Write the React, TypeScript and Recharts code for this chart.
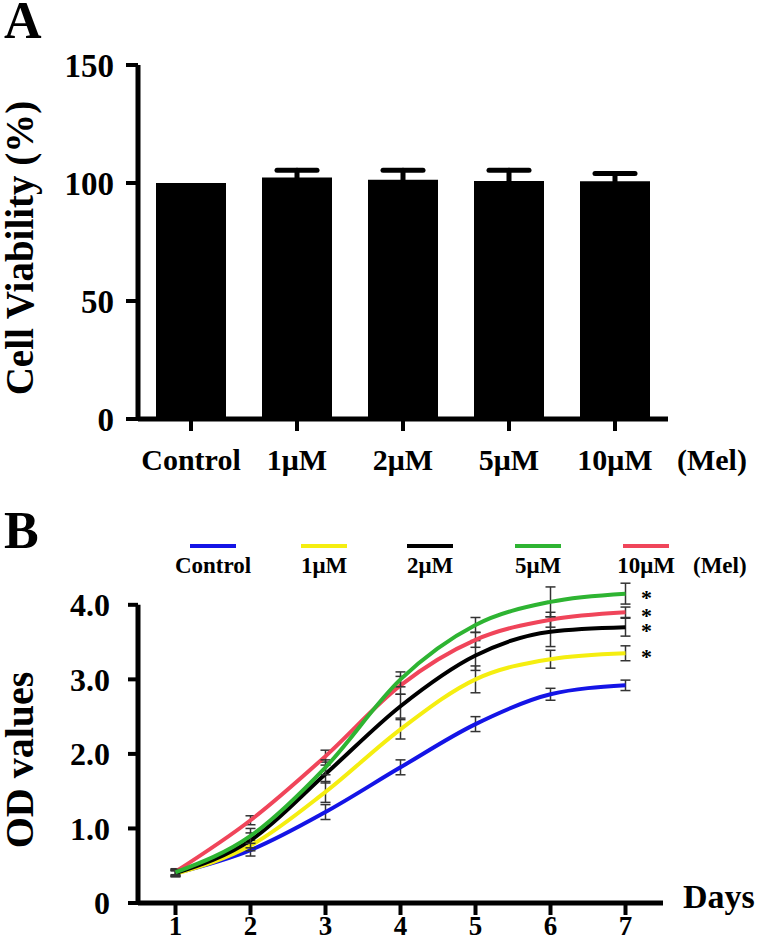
import React from 'react'
import {
  BarChart,
  Bar,
  LineChart,
  Line,
  XAxis,
  YAxis,
  ErrorBar,
  ReferenceLine,
  LabelList,
} from 'recharts'

// panel A: viability after 24h
const groups = ['Control', '1μM', '2μM', '5μM', '10μM']
const viability = [100, 102.3, 101.4, 100.8, 100.7]
const viabilitySem = [null, 3.1, 4.0, 4.6, 3.3]
const viabilityTicks = [0, 50, 100, 150]

// panel B: growth curve
const days = [1, 2, 3, 4, 5, 6, 7]
const odTicks = [0, 1, 2, 3, 4]
const seriesNames = ['Control', '1μM', '2μM', '5μM', '10μM']
const seriesColors = ['#1414e6', '#f5ee10', '#000000', '#2eb432', '#f0455a']
const odControl = [0.4, 0.71, 1.22, 1.82, 2.4, 2.8, 2.92]
const odMel1 = [0.39, 0.77, 1.49, 2.33, 3.0, 3.27, 3.35]
const odMel2 = [0.4, 0.84, 1.73, 2.64, 3.32, 3.64, 3.7]
const odMel5 = [0.41, 0.9, 1.82, 3.0, 3.73, 4.04, 4.15]
const odMel10 = [0.42, 1.11, 1.97, 2.92, 3.53, 3.8, 3.9]
const errControl = [0.04, 0.08, 0.1, 0.1, 0.1, 0.08, 0.07]
const errMel1 = [0.04, 0.07, 0.14, 0.13, 0.18, 0.12, 0.1]
const errMel2 = [0.04, 0.1, 0.12, 0.16, 0.2, 0.2, 0.12]
const errMel5 = [0.04, 0.1, 0.1, 0.1, 0.1, 0.2, 0.14]
const errMel10 = [0.04, 0.06, 0.08, 0.12, 0.1, 0.1, 0.07]
const significant = [false, true, true, true, true]

const serif = '"Liberation Serif", "Times New Roman", serif'
const W = 767
const H = 939

// symmetric sem; the lower half sits hidden inside the black bar
const barData = groups.map((g, i) => ({
  group: g,
  value: viability[i],
  sem: viabilitySem[i],
}))

const odValues = [odControl, odMel1, odMel2, odMel5, odMel10]
const odErrors = [errControl, errMel1, errMel2, errMel5, errMel10]

const lineData = days.map((d, i) => {
  const row: Record<string, number> = { day: d }
  odValues.forEach((vals, s) => {
    row[`s${s}`] = vals[i]
    row[`e${s}`] = odErrors[s][i]
  })
  return row
})

// draw order: blue, yellow, black, red, green on top
const drawOrder = [0, 1, 2, 4, 3]
const legendX = [213, 324, 430, 538, 646]

const tickFont = (size: number) => ({
  fontFamily: serif,
  fontWeight: 700,
  fontSize: size,
  fill: '#000',
})

function starLabel(props: any, show: boolean) {
  const { x, y, index } = props
  if (!show || index !== days.length - 1) return null
  return (
    <text
      x={x + 21}
      y={y + 11}
      textAnchor="middle"
      fontFamily={serif}
      fontWeight={700}
      fontSize={22}
      fill="#000"
    >
      *
    </text>
  )
}

export default function App() {
  return (
    <div
      style={{
        position: 'absolute',
        left: 0,
        top: 0,
        width: W,
        height: H,
        background: '#fff',
        overflow: 'hidden',
      }}
    >
      <div style={{ position: 'absolute', left: 0, top: 0 }}>
        <BarChart
          width={W}
          height={480}
          data={barData}
          margin={{ top: 65, right: 99, bottom: 0, left: 0 }}
        >
          <XAxis
            dataKey="group"
            height={61}
            interval={0}
            tickSize={12}
            tickMargin={18}
            axisLine={{ stroke: '#000', strokeWidth: 5 }}
            tickLine={{ stroke: '#000', strokeWidth: 4 }}
            tick={tickFont(30)}
          />
          <YAxis
            domain={[0, 150]}
            ticks={viabilityTicks}
            width={138}
            tickSize={12}
            tickMargin={12}
            axisLine={{ stroke: '#000', strokeWidth: 5 }}
            tickLine={{ stroke: '#000', strokeWidth: 4 }}
            tick={tickFont(33)}
          />
          <Bar dataKey="value" fill="#000" barSize={70} isAnimationActive={false}>
            <ErrorBar
              dataKey="sem"
              direction="y"
              width={20}
              stroke="#000"
              strokeWidth={5}
              strokeLinecap="round"
            />
          </Bar>
        </BarChart>
      </div>

      <div style={{ position: 'absolute', left: 0, top: 480 }}>
        <LineChart
          width={W}
          height={459}
          data={lineData}
          margin={{ top: 95, right: 104, bottom: 0, left: 0 }}
        >
          <XAxis
            dataKey="day"
            type="number"
            domain={[0.5, 7.5]}
            ticks={days}
            height={36}
            tickSize={12}
            tickMargin={1}
            axisLine={{ stroke: '#000', strokeWidth: 5 }}
            tickLine={{ stroke: '#000', strokeWidth: 4 }}
            tick={tickFont(27)}
          />
          <YAxis
            domain={[0, 4.4]}
            ticks={odTicks}
            width={138}
            tickSize={10}
            tickMargin={18}
            axisLine={false}
            tickLine={{ stroke: '#000', strokeWidth: 4 }}
            tick={tickFont(32)}
            tickFormatter={(v: number) => (v === 0 ? '0' : v.toFixed(1))}
          />
          <ReferenceLine
            segment={[
              { x: 0.5, y: 0 },
              { x: 0.5, y: 4 },
            ]}
            stroke="#000"
            strokeWidth={5}
            ifOverflow="visible"
          />
          {drawOrder.map((s) => (
            <Line
              key={s}
              type="monotone"
              dataKey={`s${s}`}
              name={seriesNames[s]}
              stroke={seriesColors[s]}
              strokeWidth={4}
              dot={false}
              isAnimationActive={false}
            >
              <ErrorBar
                dataKey={`e${s}`}
                direction="y"
                width={5}
                stroke="#333"
                strokeWidth={1.5}
              />
              <LabelList
                dataKey={`s${s}`}
                content={(p: any) => starLabel(p, significant[s])}
              />
            </Line>
          ))}
        </LineChart>
      </div>

      <svg
        width={W}
        height={H}
        style={{ position: 'absolute', left: 0, top: 0, pointerEvents: 'none' }}
        fontFamily={serif}
        fontWeight={700}
        fill="#000"
      >
        <text x={4} y={38} fontSize={52}>A</text>
        <text x={4} y={548} fontSize={52}>B</text>
        <text
          x={33}
          y={248}
          fontSize={39}
          textAnchor="middle"
          transform="rotate(-90, 33, 248)"
        >
          Cell Viability (%)
        </text>
        <text
          x={33}
          y={760}
          fontSize={40}
          textAnchor="middle"
          transform="rotate(-90, 33, 760)"
        >
          OD values
        </text>
        <text x={677} y={470} fontSize={30}>(Mel)</text>
        <text x={683} y={908} fontSize={34}>Days</text>
        {seriesNames.map((n, i) => (
          <g key={n}>
            <line
              x1={legendX[i] - 23}
              x2={legendX[i] + 23}
              y1={546}
              y2={546}
              stroke={seriesColors[i]}
              strokeWidth={4}
            />
            <text x={legendX[i]} y={573} fontSize={23} textAnchor="middle">
              {n}
            </text>
          </g>
        ))}
        <text x={693} y={573} fontSize={23}>(Mel)</text>
      </svg>
    </div>
  )
}
